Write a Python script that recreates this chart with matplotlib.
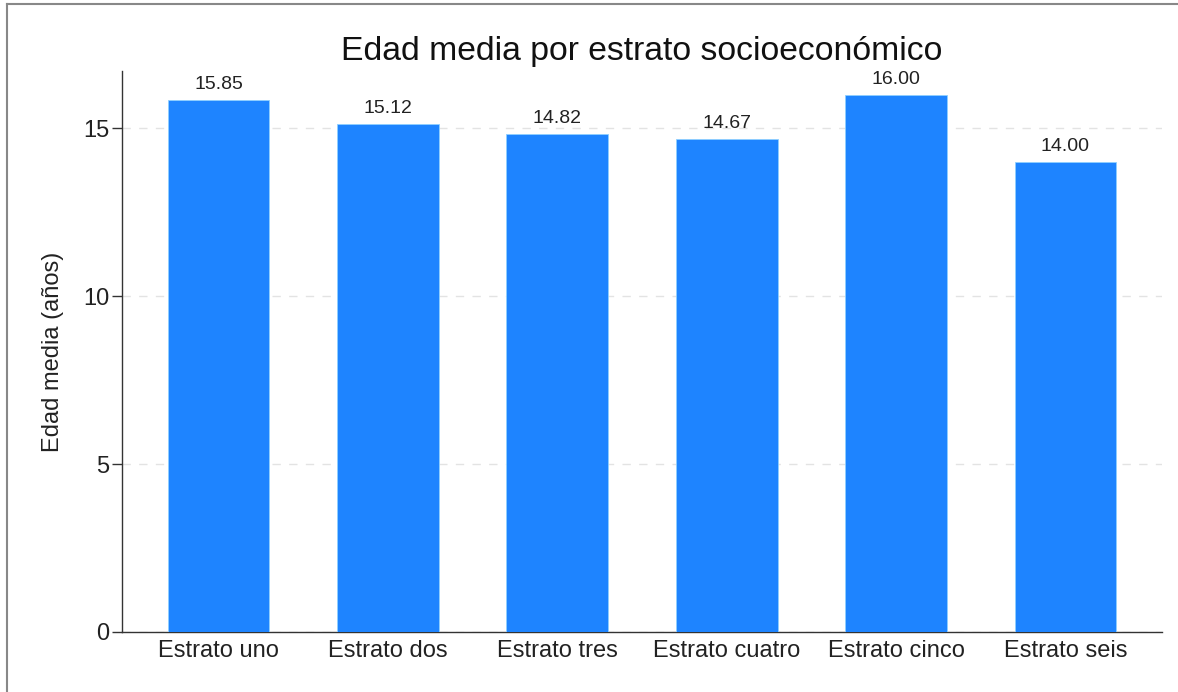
import matplotlib
matplotlib.use("Agg")
import matplotlib.pyplot as plt
from matplotlib.lines import Line2D

categories = ["Estrato uno", "Estrato dos", "Estrato tres", "Estrato cuatro", "Estrato cinco", "Estrato seis"]
values = [15.85, 15.12, 14.82, 14.67, 16.00, 14.00]
yticks = [0, 5, 10, 15]

plt.rcParams['font.family'] = ['Liberation Sans', 'DejaVu Sans']

fig = plt.figure(figsize=(11.78, 6.92), dpi=100)
ax = fig.add_axes([122/1178, 1-632/692, (1162-122)/1178, (632-71)/692])

x = list(range(len(categories)))
bars = ax.bar(x, values, width=0.6, color='#1e84ff', edgecolor='#8fd0ff', linewidth=0.6, zorder=3)
for xi, v in zip(x, values):
    ax.annotate(f"{v:.2f}", (xi, v), xytext=(0, 5), textcoords='offset points',
                ha='center', va='bottom', fontsize=14, color='#222222')

ax.set_xlim(-0.57, 5.57)
ax.set_ylim(0, 16.7)
ax.set_xticks(x)
ax.set_xticklabels(categories, fontsize=17, color='#222222')
ax.set_yticks(yticks)
ax.set_yticklabels([str(t) for t in yticks], fontsize=17, color='#222222')
ax.tick_params(axis='x', length=0, pad=6)
ax.tick_params(axis='y', length=7, width=1, color='#333333', pad=2)
ax.grid(axis='y', linestyle=(0, (6, 6)), color='#e3e3e3', linewidth=1, zorder=0)
for s in ['top', 'right']:
    ax.spines[s].set_visible(False)
for s in ['left', 'bottom']:
    ax.spines[s].set_color('#333333')
    ax.spines[s].set_linewidth(1)
ax.set_ylabel("Edad media (años)", fontsize=17, color='#222222', labelpad=14)
ax.set_title("Edad media por estrato socioeconómico", fontsize=24.3, color='#111111', pad=8)

lx = 7/1178
ty = 1 - 4/692
fig.add_artist(Line2D([lx, lx], [0, ty], transform=fig.transFigure, color='#888888', linewidth=1.5))
fig.add_artist(Line2D([lx, 1], [ty, ty], transform=fig.transFigure, color='#888888', linewidth=1.5))

fig.savefig("out.png", dpi=100)
